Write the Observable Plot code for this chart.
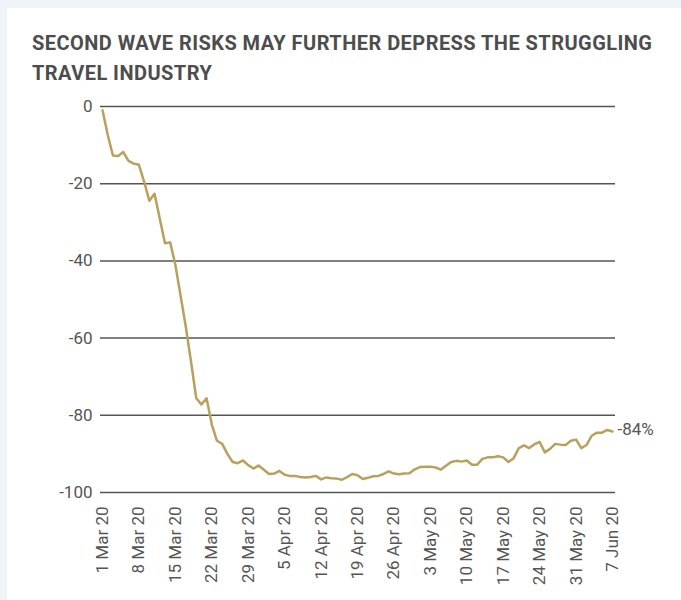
<!DOCTYPE html>
<html>
<head>
<meta charset="utf-8">
<script src="https://cdn.jsdelivr.net/npm/d3@7"></script>
<script src="https://cdn.jsdelivr.net/npm/@observablehq/plot@0.6"></script>
<style>
  html, body { margin: 0; padding: 0; }
  body { width: 681px; height: 600px; background: #eef4f7; overflow: hidden; font-family: Roboto, "Liberation Sans", sans-serif; }
  #panel { position: absolute; left: 7px; top: 8px; width: 674px; height: 592px; background: #fff; }
  #title { position: absolute; left: 32px; top: 28px; width: 645px; font-weight: 700; font-size: 20px; line-height: 30px; color: #4d4d4d; letter-spacing: 0.45px; white-space: nowrap; }
  #chart { position: absolute; left: 0; top: 88px; }
</style>
</head>
<body>
<div id="panel"></div>
<div id="title">SECOND WAVE RISKS MAY FURTHER DEPRESS THE STRUGGLING<br>TRAVEL INDUSTRY</div>
<div id="chart"></div>
<script>
// Daily change (%) from 1 Mar 2020 to 7 Jun 2020
const startDate = "2020-03-01";
const values = [
  -1, -7.3, -12.7, -12.8, -11.8, -14.1, -14.8, -15.1, -19.5, -24.4,
  -22.6, -29, -35.4, -35.2, -41, -49, -57, -66, -75.5, -77.2,
  -75.6, -82.4, -86.6, -87.4, -90, -92.1, -92.4, -91.7, -92.9, -93.8,
  -93.0, -94.1, -95.2, -95.1, -94.4, -95.4, -95.7, -95.7, -96.0, -96.1,
  -96.0, -95.7, -96.6, -96.1, -96.3, -96.4, -96.7, -96.0, -95.2, -95.5,
  -96.5, -96.2, -95.8, -95.7, -95.2, -94.5, -95.1, -95.3, -95.1, -95.0,
  -94.0, -93.4, -93.3, -93.3, -93.5, -94.1, -93.1, -92.1, -91.8, -92.0,
  -91.7, -92.8, -92.8, -91.3, -90.9, -90.9, -90.6, -90.9, -92.1, -91.1,
  -88.5, -87.8, -88.5, -87.5, -86.9, -89.6, -88.7, -87.4, -87.6, -87.7,
  -86.6, -86.3, -88.5, -87.7, -85.3, -84.5, -84.5, -83.8, -84.2
];
const xTickDates = ["2020-03-01","2020-03-08","2020-03-15","2020-03-22","2020-03-29","2020-04-05","2020-04-12","2020-04-19","2020-04-26","2020-05-03","2020-05-10","2020-05-17","2020-05-24","2020-05-31","2020-06-07"];
const yTicks = [0, -20, -40, -60, -80, -100];
const endLabel = "-84%";

const start = new Date(startDate);
const data = values.map((v, i) => ({date: d3.utcDay.offset(start, i), value: v}));
const last = data[data.length - 1];

const textColor = "#555555";
const chart = Plot.plot({
  width: 681,
  height: 508,
  marginLeft: 100,
  marginRight: 66,
  marginTop: 18,
  marginBottom: 104,
  insetLeft: 2,
  insetRight: 3,
  style: {fontFamily: "Roboto, sans-serif", background: "transparent", overflow: "visible"},
  x: {type: "utc", domain: [new Date(xTickDates[0]), new Date(xTickDates[xTickDates.length - 1])]},
  y: {domain: [-100, 0]},
  marks: [
    Plot.gridY(yTicks, {stroke: "#555", strokeOpacity: 1, strokeWidth: 1.5}),
    Plot.axisY(yTicks, {tickSize: 0, tickPadding: 8, fontSize: 17, fill: textColor, label: null, tickFormat: d => String(d), style: "letter-spacing: 0.4px"}),
    Plot.axisX(xTickDates.map(d => new Date(d)), {tickSize: 0, tickRotate: -90, tickPadding: 14, fontSize: 17, fill: textColor, label: null, tickFormat: d3.utcFormat("%-d %b %y"), style: "letter-spacing: 1px"}),
    Plot.line(data, {x: "date", y: "value", stroke: "#b8a15c", strokeWidth: 2.5}),
    Plot.text([last], {x: "date", y: "value", text: () => endLabel, textAnchor: "start", dx: 5, dy: -2, fontSize: 17, fill: textColor, style: "letter-spacing: 1.5px"})
  ]
});
document.getElementById("chart").appendChild(chart);
</script>
</body>
</html>
